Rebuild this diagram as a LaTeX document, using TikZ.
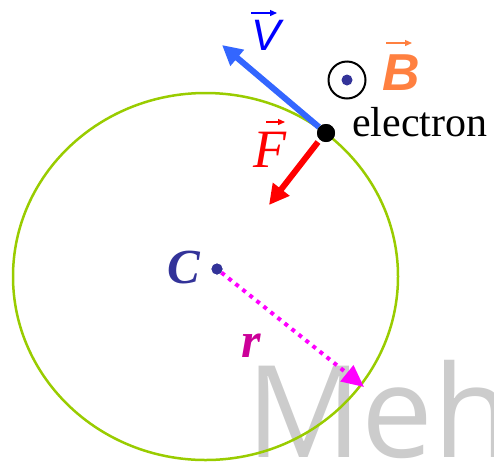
\documentclass[tikz,border=0pt]{standalone}
\usepackage{fontspec}
\setmainfont{Liberation Serif}
\newfontfamily\arialf{Liberation Sans}
\newfontfamily\wmfont{Open Sans}
\usetikzlibrary{arrows.meta}
\definecolor{ringgreen}{RGB}{153,204,0}
\definecolor{vblue}{RGB}{51,102,255}
\definecolor{borange}{RGB}{255,128,64}
\definecolor{cblue}{RGB}{51,51,153}
\definecolor{rmag}{RGB}{204,0,153}
\definecolor{dmag}{RGB}{255,0,255}
\definecolor{wmgray}{RGB}{204,204,204}
\tikzset{
  ring/.style={draw=ringgreen, line width=2.5},
  fatarrow/.style={line width=6, -{Triangle[length=20,width=20]}},
  overarrow/.style={line width=1.3, -{Triangle[length=7,width=6]}},
  lbl/.style={inner sep=0},
}
\begin{document}
\begin{tikzpicture}[x=1pt,y=-1pt]
\useasboundingbox (0,0) rectangle (494,464);
\begin{scope}
\clip (0,0) rectangle (494,464);
\node[lbl, anchor=base west, text=wmgray, font=\wmfont\fontsize{128}{128}\selectfont] (wm) at (246,457) {Meh};
\end{scope}
% orbit
\draw[ring] (205.5,276.5) ellipse [x radius=192.5, y radius=183.5];
% nodes
\node[circle, fill=black, minimum size=18, inner sep=0] (el) at (326,133) {};
\node[circle, fill=cblue, minimum size=11, inner sep=0] (cdot) at (217,269) {};
\coordinate (vtip) at (222,45);
\coordinate (fstart) at (318,142);
\coordinate (ftip) at (269,205);
\coordinate (rtip) at (364,387);
% velocity
\draw[fatarrow, draw=vblue, fill=vblue] (el) -- (vtip);
% force
\draw[fatarrow, draw=red, fill=red] (fstart) -- (ftip);
% radius
\draw[dmag, line width=4, dash pattern=on 4 off 5, -{Triangle[length=22,width=20]}] (cdot) -- (rtip);
\fill[cblue] (cdot) circle (5.5);
\fill[black] (el) circle (9);
% B field symbol
\node[circle, draw=black, line width=2, minimum size=37, inner sep=0] (bodot) at (347,80) {};
\fill[cblue] (bodot.center) circle (5.5);
% labels
\node[lbl, text=blue, font=\arialf\itshape\fontsize{44}{44}\selectfont] (vlab) at (266,35) {V};
\coordinate (va1) at (251,13); \coordinate (va2) at (277,13);
\draw[overarrow, draw=blue, fill=blue] (va1) -- (va2);
\node[lbl, text=borange, font=\arialf\bfseries\itshape\fontsize{52}{52}\selectfont] (blab) at (401,73) {B};
\coordinate (ba1) at (386,43); \coordinate (ba2) at (412,43);
\draw[overarrow, draw=borange, fill=borange] (ba1) -- (ba2);
\node[lbl, text=red, font=\itshape\fontsize{54}{54}\selectfont] (flab) at (270,150) {F};
\coordinate (fa1) at (266,122); \coordinate (fa2) at (285,122);
\draw[overarrow, draw=red, fill=red] (fa1) -- (fa2);
\node[lbl, anchor=base west, font=\fontsize{42}{42}\selectfont] (etext) at (352,136) {electron};
\node[lbl, text=cblue, font=\bfseries\itshape\fontsize{49}{49}\selectfont] (clab) at (184,268) {C};
\node[lbl, anchor=base, text=rmag, font=\bfseries\itshape\fontsize{50}{50}\selectfont] (rlab) at (251,357) {r};
\end{tikzpicture}
\end{document}
